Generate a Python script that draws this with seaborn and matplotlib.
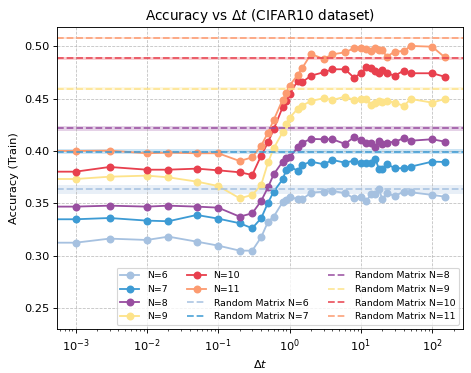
import numpy as np
import pandas as pd
import matplotlib
matplotlib.use("Agg")
import matplotlib.pyplot as plt
import seaborn as sns

# time steps (0 is the baseline run; it falls off the left of the log axis)
dt = [0, 0.001, 0.003, 0.01, 0.02, 0.05, 0.1, 0.2, 0.3, 0.4, 0.5, 0.6, 0.8, 0.9, 1.0,
      1.3, 1.5, 2, 3, 4, 6, 8, 10, 12, 14, 16, 18, 20, 23, 30, 40, 50, 100, 150]

acc_n6 = [0.3123, 0.3123, 0.3162, 0.3149, 0.3181, 0.3133, 0.3095, 0.3047, 0.3047, 0.3175, 0.3324,
          0.3372, 0.3510, 0.3532, 0.3563, 0.3538, 0.3538, 0.3601, 0.3611, 0.3618, 0.3596,
          0.3548, 0.3563, 0.3525, 0.3586, 0.3589, 0.3634, 0.3538, 0.3596, 0.3570, 0.3611,
          0.3605, 0.3580, 0.3563]
acc_n7 = [0.3347, 0.3347, 0.3359, 0.3334, 0.3328, 0.3388, 0.3353, 0.3309, 0.3261, 0.3357, 0.3506,
          0.3611, 0.3729, 0.3818, 0.3850, 0.3812, 0.3866, 0.3898, 0.3873, 0.3914, 0.3888,
          0.3907, 0.3888, 0.3882, 0.3888, 0.3921, 0.3825, 0.3825, 0.3876, 0.3835, 0.3835,
          0.3850, 0.3898, 0.3895]
acc_n8 = [0.3468, 0.3468, 0.3477, 0.3468, 0.3477, 0.3468, 0.3458, 0.3372, 0.3404, 0.3522, 0.3653,
          0.3777, 0.3898, 0.3936, 0.3940, 0.4035, 0.4079, 0.4115, 0.4112, 0.4112, 0.4067,
          0.4131, 0.4105, 0.4079, 0.4079, 0.4041, 0.4098, 0.4067, 0.4079, 0.4089, 0.4121,
          0.4098, 0.4112, 0.4089]
acc_n9 = [0.3732, 0.3732, 0.3754, 0.3764, 0.3748, 0.3707, 0.3665, 0.3548, 0.3579, 0.3675, 0.3890,
          0.4026, 0.4179, 0.4258, 0.4318, 0.4402, 0.4433, 0.4478, 0.4504, 0.4488, 0.4519,
          0.4488, 0.4494, 0.4494, 0.4440, 0.4460, 0.4478, 0.4471, 0.4478, 0.4462, 0.4430,
          0.4497, 0.4462, 0.4497]
acc_n10 = [0.3802, 0.3802, 0.3847, 0.3821, 0.3821, 0.3831, 0.3815, 0.3796, 0.3771, 0.3955, 0.4083,
           0.4207, 0.4418, 0.4481, 0.4545, 0.4669, 0.4657, 0.4720, 0.4752, 0.4781, 0.4781,
           0.4701, 0.4743, 0.4800, 0.4790, 0.4768, 0.4743, 0.4774, 0.4743, 0.4720, 0.4768,
           0.4743, 0.4743, 0.4710]
acc_n11 = [0.4000, 0.4000, 0.4003, 0.3978, 0.3984, 0.3978, 0.3978, 0.3904, 0.3939, 0.4051, 0.4175,
           0.4296, 0.4490, 0.4550, 0.4624, 0.4727, 0.4790, 0.4927, 0.4880, 0.4924, 0.4943,
           0.4982, 0.4982, 0.4972, 0.4956, 0.4982, 0.4966, 0.4966, 0.4902, 0.4950, 0.4956,
           0.5004, 0.4997, 0.4896]

n_values = [6, 7, 8, 9, 10, 11]
series = [acc_n6, acc_n7, acc_n8, acc_n9, acc_n10, acc_n11]
colors = ['#a6c1e0', '#3d9bd4', '#984ea0', '#fde38a', '#e8404e', '#fc9b70']

# random matrix baseline: mean and spread
rm_mean = [0.3632, 0.3993, 0.4217, 0.4594, 0.4888, 0.5080]
rm_std = [0.0043, 0.0024, 0.0022, 0.0015, 0.0015, 0.0010]

DPI = 81.75
fig = plt.figure(figsize=(471 / DPI, 373 / DPI), dpi=DPI)
ax = fig.add_axes([0.1217, 0.118, 0.8607, 0.8104])

for n, vals, c in zip(n_values, series, colors):
    df = pd.DataFrame({'dt': dt, 'acc': vals})
    sns.lineplot(data=df, x='dt', y='acc', ax=ax, color=c, marker='o', markersize=7,
                 markeredgewidth=0, linewidth=1.6, label=f'N={n}')

for n, m, s, c in zip(n_values, rm_mean, rm_std, colors):
    ax.axhspan(m - s, m + s, color=c, alpha=0.25, lw=0)
    ax.axhline(m, color=c, linestyle='--', linewidth=1.6, alpha=0.85,
               label=f'Random Matrix N={n}')

ax.set_xscale('log')
ax.set_xlim(5.55e-4, 268)
ax.set_ylim(0.2298, 0.5188)
ax.grid(True, which='major', linestyle='--', color='#b0b0b0', linewidth=0.7, alpha=0.8)
ax.set_title(r'Accuracy vs $\Delta t$ (CIFAR10 dataset)')
ax.set_xlabel(r'$\Delta t$')
ax.set_ylabel('Accuracy (Train)')
ax.legend(ncol=3, loc='lower right', fontsize=8.3, columnspacing=2.1, borderaxespad=0.4)

fig.savefig('out.png', dpi=DPI)
